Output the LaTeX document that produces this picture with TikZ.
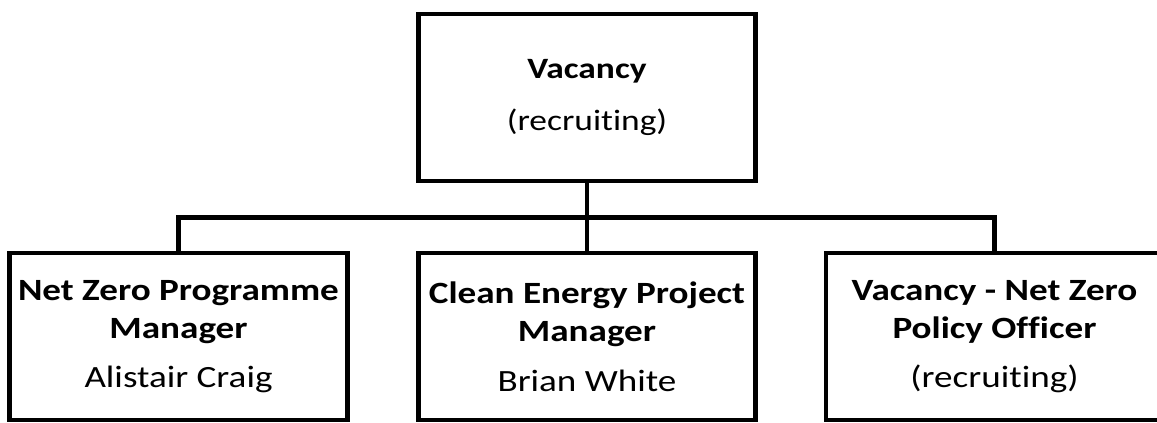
\documentclass[tikz,border=0pt]{standalone}
\usepackage{fontspec}
\setmainfont{Carlito}[FakeStretch=1.2, Ligatures=NoCommon]

\tikzset{
  post/.style={draw, line width=3.5pt, minimum width=8.425cm,
    minimum height=4.175cm, align=center, inner sep=0pt},
  headtext/.style={font=\fontsize{21}{25.6}\selectfont},
  stafftext/.style={font=\fontsize{22}{27.3}\selectfont},
  wire/.style={line width=3.5pt}
}

\begin{document}
\begin{tikzpicture}[x=0.025cm,y=-0.025cm]
 % page size of the chart
 \useasboundingbox (0,0) rectangle (1157,422);

 % head of the team
 \node[post,headtext] (head) at (587,97.5)
   {\textbf{Vacancy}\\[11.4pt](recruiting)};

 % team members
 \node[post,stafftext] (netzero) at (178.5,336.5)
   {\textbf{Net Zero Programme}\\\textbf{Manager}\\[7.7pt]Alistair Craig};
 \node[post,stafftext] (clean) at (587,336.5)
   {\textbf{Clean Energy Project}\\\textbf{Manager}\\[7.7pt]Brian White};
 \node[post,stafftext] (policy) at (994.5,336.5)
   {\textbf{Vacancy - Net Zero}\\\textbf{Policy Officer}\\[7.7pt](recruiting)};

 % reporting lines
 \coordinate (bus) at (587,217.5);
 \draw[wire] (head.south) -- (clean.north);
 \draw[wire] (netzero.north) |- (bus) -| (policy.north);

\end{tikzpicture}
\end{document}
